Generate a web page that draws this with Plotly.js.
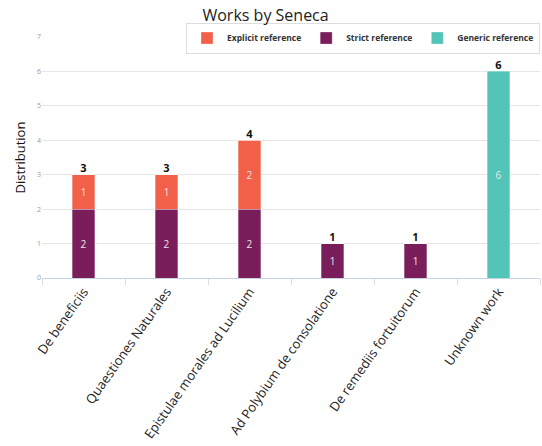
<!DOCTYPE html>
<html><head><meta charset="utf-8">
<script src="https://cdn.plot.ly/plotly-3.0.1.min.js"></script>
<style>body{margin:0;background:#fff}#c{width:542px;height:446px}</style>
</head><body><div id="c"></div>
<script>
const categories = ["De beneficiis","Quaestiones Naturales","Epistulae morales ad Lucilium","Ad Polybium de consolatione","De remediis fortuitorum","Unknown work"];
const strictRef = [2,2,2,1,1,0];
const explicitRef = [1,1,2,0,0,0];
const genericRef = [0,0,0,0,0,6];
const yTicks = [0,1,2,3,4,5,6,7];

const totals = categories.map((c,i)=>strictRef[i]+explicitRef[i]+genericRef[i]);
const lbl = a => a.map(v => v ? String(v) : "");
const insideFont = {family:"Open Sans", size:10, color:"#e8e8e8"};
function bar(name, vals, color, rank){
  return {type:"bar", name:name, x:categories, y:vals, marker:{color:color, line:{color:"rgba(255,255,255,0.6)", width:0.5}},
    text:lbl(vals), textposition:"inside", insidetextanchor:"middle", textfont:insideFont, textangle:0,
    legendrank:rank, hoverinfo:"skip", width:0.27};
}
const data = [
  bar("Strict reference", strictRef, "#7a1e5b", 2),
  bar("Explicit reference", explicitRef, "#f2604a", 1),
  bar("Generic reference", genericRef, "#52c4b8", 3),
  {type:"scatter", mode:"text", x:categories, y:totals, text:totals.map(String), textposition:"top center",
   textfont:{family:"Open Sans", size:11, color:"#111", weight:"bold"}, showlegend:false, hoverinfo:"skip", cliponaxis:false}
];
const layout = {
  width:542, height:446,
  margin:{l:42, r:2, t:37, b:168},
  paper_bgcolor:"#fff", plot_bgcolor:"#fff",
  barmode:"stack", bargap:0.73,
  font:{family:"Open Sans", color:"#222"},
  title:{text:"Works by Seneca", x:0.49, xanchor:"center", y:0.978, yanchor:"top", font:{size:16, color:"#222"}},
  xaxis:{type:"category", tickangle:-55, tickfont:{size:13, color:"#222"}, showgrid:false,
         showline:true, linecolor:"#c7d3e0", linewidth:1, ticks:"outside", ticklen:6, tickcolor:"#dcdcdc",
         tickson:"boundaries", automargin:false},
  yaxis:{range:[0,7], tickvals:yTicks, ticktext:yTicks.map(String), tickfont:{size:7, color:"#999"},
         showgrid:true, gridcolor:"#e6e6e6", gridwidth:1, zeroline:false, showline:false, ticks:"",
         title:{text:"Distribution", font:{size:13, color:"#111"}, standoff:8}, automargin:false},
  showlegend:true,
  legend:{orientation:"h", x:1, xanchor:"right", y:1.06, yanchor:"top", bgcolor:"#fff",
          bordercolor:"#dddddd", borderwidth:1, font:{size:8.5, color:"#333", weight:"bold"},
          itemwidth:30, traceorder:"normal"}
};
Plotly.newPlot("c", data, layout, {displayModeBar:false, staticPlot:true});
</script></body></html>
